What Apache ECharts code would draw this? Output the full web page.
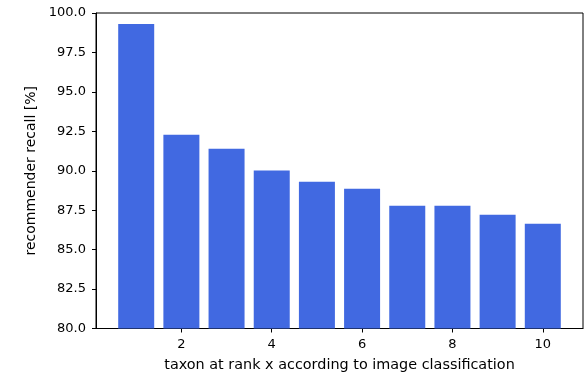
<!DOCTYPE html>
<html>
<head>
<meta charset="utf-8">
<script src="https://cdn.jsdelivr.net/npm/echarts@6/dist/echarts.min.js"></script>
<style>
  html, body { margin: 0; padding: 0; background: #fff; }
  #chart { width: 585px; height: 372px; }
</style>
</head>
<body>
<div id="chart"></div>
<script>
// Recall of the recommender when the true taxon sits at rank x of the image classifier
const ranks = [1, 2, 3, 4, 5, 6, 7, 8, 9, 10];
const recall = [99.31, 92.28, 91.40, 90.01, 89.30, 88.86, 87.78, 87.78, 87.21, 86.64];
const xTicks = [2, 4, 6, 8, 10];
const yTicks = [80, 82.5, 85, 87.5, 90, 92.5, 95, 97.5, 100];

const font = 'DejaVu Sans';
const chart = echarts.init(document.getElementById('chart'), null, { renderer: 'canvas' });

chart.setOption({
  animation: false,
  backgroundColor: '#fff',
  grid: {
    left: 96, right: 2, top: 13, bottom: 43.5,
    outerBoundsMode: 'none',
    containLabel: false,
    show: true, borderColor: '#000', borderWidth: 1, backgroundColor: 'transparent'
  },
  xAxis: {
    type: 'value',
    min: 0.11, max: 10.89,
    name: 'taxon at rank x according to image classification',
    nameLocation: 'middle',
    nameGap: 30,
    nameTextStyle: { fontFamily: font, fontSize: 14.4, color: '#000' },
    axisLine: { show: true, onZero: false, lineStyle: { color: '#000', width: 1 } },
    axisTick: { show: true, inside: false, length: 4, customValues: xTicks, lineStyle: { color: '#000' } },
    axisLabel: { customValues: xTicks, margin: 9.5, fontFamily: font, fontSize: 13, color: '#000' },
    splitLine: { show: false }
  },
  yAxis: {
    type: 'value',
    min: 80, max: 100, interval: 2.5,
    name: 'recommender recall [%]',
    nameLocation: 'middle',
    nameGap: 56,
    nameTextStyle: { fontFamily: font, fontSize: 14, color: '#000' },
    axisLine: { show: true, lineStyle: { color: '#000', width: 1 } },
    axisTick: { show: true, length: 4, lineStyle: { color: '#000' } },
    axisLabel: {
      margin: 10, fontFamily: font, fontSize: 13, color: '#000',
      formatter: v => yTicks.includes(v) ? v.toFixed(1) : ''
    },
    splitLine: { show: false }
  },
  series: [{
    type: 'bar',
    data: ranks.map((r, i) => [r, recall[i]]),
    barWidth: 36,
    itemStyle: { color: '#4169E1' },
    clip: true
  }]
});
</script>
</body>
</html>
